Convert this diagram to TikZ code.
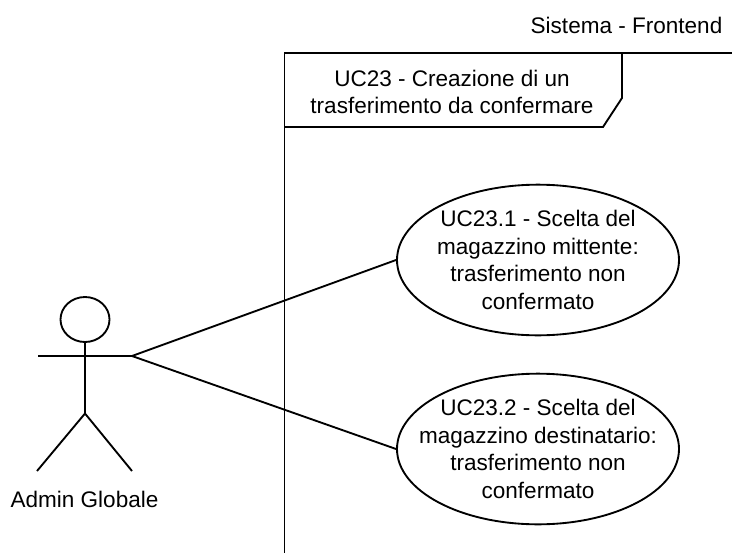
\documentclass[tikz,border=0pt]{standalone}
\usepackage{fontspec}
\setmainfont{Liberation Sans}
\usetikzlibrary{shapes.geometric}
\tikzset{
  line/.style={draw=black,line width=1.4pt},
  txt/.style={inner sep=0pt,align=center,font=\fontsize{16.9pt}{20.8pt}\selectfont},
  usecase/.style={ellipse,draw=black,line width=1.4pt,fill=white,minimum width=211.5pt,minimum height=113pt,align=center,font=\fontsize{16.9pt}{20.8pt}\selectfont,inner xsep=-60pt,inner ysep=-40pt},
}
\begin{document}
\begin{tikzpicture}[x=0.75pt,y=-0.75pt,every node/.append style={text=black}]
\useasboundingbox (0,0) rectangle (732,553);
\fill[white] (0,0) rectangle (732,553);
% frame
\draw[line] (733,53) -- (284.5,53) -- (284.5,554);
\coordinate (tabA) at (622,53);
\coordinate (tabB) at (622,98);
\coordinate (tabC) at (603,127);
\coordinate (tabD) at (284.5,127);
\draw[line] (tabA) -- (tabB) -- (tabC) -- (tabD);
\node[txt] (sys) at (626.5,25) {Sistema - Frontend};
\node[txt] (title) at (452,92) {UC23 - Creazione di un\\trasferimento da confermare};
% actor
\draw[line] (85,319.5) ellipse [x radius=24.5,y radius=22.5];
\coordinate (neck) at (85,342);
\coordinate (hip) at (85,413.5);
\coordinate (armL) at (38,356);
\coordinate (armR) at (132,356);
\coordinate (legL) at (37,471);
\coordinate (legR) at (132,471);
\draw[line] (neck) -- (hip);
\draw[line] (armL) -- (armR);
\draw[line] (legL) -- (hip) -- (legR);
\node[txt] (actor) at (84.5,499) {Admin Globale};
% use cases
\node[usecase] (uc1) at (538,260) {UC23.1 - Scelta del\\magazzino mittente:\\trasferimento non\\confermato};
\node[usecase] (uc2) at (538,449) {UC23.2 - Scelta del\\magazzino destinatario:\\trasferimento non\\confermato};
\draw[line] (armR) -- (uc1.west);
\draw[line] (armR) -- (uc2.west);
\end{tikzpicture}
\end{document}
